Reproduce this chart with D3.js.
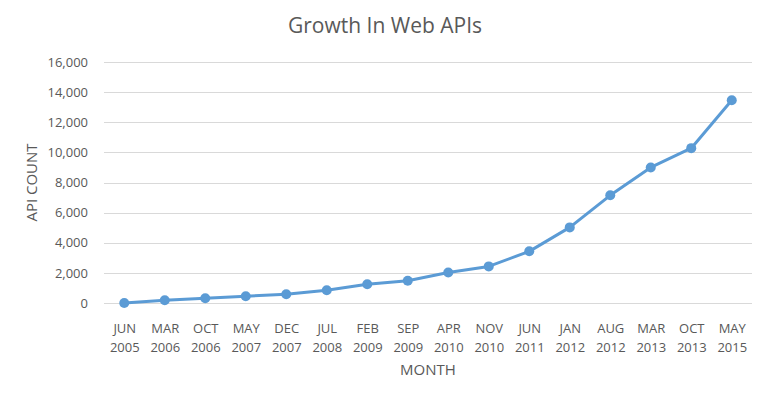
<!DOCTYPE html>
<html>
<head>
<meta charset="utf-8">
<script src="https://cdn.jsdelivr.net/npm/d3@7"></script>
<style>
  body { margin: 0; background: #fff; }
  text { font-family: "Open Sans", "Noto Sans", sans-serif; fill: #595959; }
</style>
</head>
<body>
<script>
// months, two lines each
var months = ["JUN 2005", "MAR 2006", "OCT 2006", "MAY 2007", "DEC 2007", "JUL 2008",
  "FEB 2009", "SEP 2009", "APR 2010", "NOV 2010", "JUN 2011", "JAN 2012",
  "AUG 2012", "MAR 2013", "OCT 2013", "MAY 2015"];
var apiCount = [0, 180, 320, 450, 580, 850, 1240, 1480, 2020, 2430, 3430, 5020,
  7150, 9000, 10280, 13460];
var yTicks = [0, 2000, 4000, 6000, 8000, 10000, 12000, 14000, 16000];

var width = 771, height = 399;
var margin = {top: 62, right: 19, bottom: 96, left: 104};

var svg = d3.select("body").append("svg")
  .attr("width", width)
  .attr("height", height);

var x = d3.scalePoint()
  .domain(months)
  .range([margin.left, width - margin.right])
  .padding(0.5);

var y = d3.scaleLinear()
  .domain([0, 16000])
  .range([height - margin.bottom, margin.top]);

// gridlines
svg.append("g")
  .selectAll("line")
  .data(yTicks)
  .enter()
    .append("line")
      .attr("x1", margin.left)
      .attr("x2", width - margin.right)
      .attr("y1", function(d) { return Math.round(y(d)) + 0.5; })
      .attr("y2", function(d) { return Math.round(y(d)) + 0.5; })
      .attr("stroke", "#d9d9d9")
      .attr("stroke-width", 1);

// y axis labels
var yAxis = svg.append("g")
  .attr("transform", "translate(" + (margin.left - 13) + ",0)")
  .call(d3.axisLeft(y).tickValues(yTicks).tickSize(0).tickFormat(d3.format(",")));
yAxis.select(".domain").remove();
yAxis.selectAll("text")
  .attr("font-size", "13px")
  .style("font-family", "\"Open Sans\", sans-serif")
  .attr("fill", "#595959");

// x axis labels
var xAxis = svg.append("g")
  .attr("transform", "translate(0," + (height - margin.bottom) + ")")
  .call(d3.axisBottom(x).tickSize(0).tickFormat(""));
xAxis.select(".domain").remove();
xAxis.selectAll(".tick").each(function(d) {
  var parts = d.split(" ");
  var t = d3.select(this).append("text")
    .attr("text-anchor", "middle")
    .attr("font-size", "13px");
  t.append("tspan").attr("x", 0).attr("y", 30).text(parts[0]);
  t.append("tspan").attr("x", 0).attr("y", 49).text(parts[1]);
});

// line
var line = d3.line()
  .x(function(d, i) { return x(months[i]); })
  .y(function(d) { return y(d); });

svg.append("path")
  .datum(apiCount)
  .attr("d", line)
  .attr("fill", "none")
  .attr("stroke", "#5b9bd5")
  .attr("stroke-width", 3)
  .attr("stroke-linejoin", "round");

svg.append("g")
  .selectAll("circle")
  .data(apiCount)
  .enter()
    .append("circle")
      .attr("cx", function(d, i) { return x(months[i]); })
      .attr("cy", function(d) { return y(d); })
      .attr("r", 5)
      .attr("fill", "#5b9bd5");

// titles
svg.append("text")
  .attr("x", 385)
  .attr("y", 33)
  .attr("text-anchor", "middle")
  .attr("font-size", "21px")
  .text("Growth In Web APIs");

svg.append("text")
  .attr("transform", "translate(37," + ((margin.top + height - margin.bottom) / 2) + ") rotate(-90)")
  .attr("text-anchor", "middle")
  .attr("font-size", "15px")
  .text("API COUNT");

svg.append("text")
  .attr("x", (margin.left + width - margin.right) / 2)
  .attr("y", 375)
  .attr("text-anchor", "middle")
  .attr("font-size", "15px")
  .text("MONTH");
</script>
</body>
</html>
